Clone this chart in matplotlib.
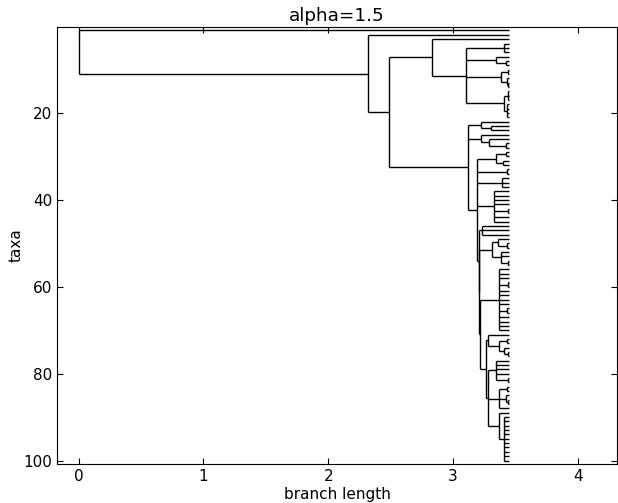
import re
import matplotlib
matplotlib.use("Agg")
from matplotlib import pyplot as plt

# tree written as nested newick-like pieces: '*' is a tip, the number after
# ')' is the x position (distance from root) of that internal node, and an
# upper-case name is replaced by the piece of that name
LEAF_X = 3.45
SUBTREES = {
    "ROOT": "(*,C2)0",
    "C2": "(*,A)2.32",
    "A": "(B,E)2.49",
    "B": "(*,D)2.83",
    "D": "(D1,D2,D3,D4)3.10",
    "D1": "(*,*,*)3.41",
    "D2": "(*,(*,*)3.42)3.34",
    "D3": "((*,*)3.44,(*,(*,*)3.44)3.43)3.38",
    "D4": "((*,*,*)3.44,(*,*,*,*)3.43)3.41",
    "E": "(E1,E2,E3)3.12",
    "E1": "(*,(*,*)3.30)3.22",
    "E2": "(*,(*,(*,*)3.42)3.29)3.22",
    "E3": "(F1,F2,F3,F4,G)3.19",
    "F1": "((*,*)3.42,(*,*)3.40)3.34",
    "F2": "(*,*)3.43",
    "F3": "(*,*,*)3.39",
    "F4": "(*,*,*,*,(*,*)3.44,*,*)3.33",
    "G": "(G1,G2)3.205",
    "G1": "(*,*,*)3.23",
    "G2": "(H,G3)3.21",
    "H": "((*,(*,*)3.43)3.36,(*,*,(*,*)3.44)3.38)3.31",
    "G3": "(R,L)3.215",
    "R": "(*,*,*,(*,*)3.44,*,*,*,*,(*,*)3.43,*,*,*,*)3.37",
    "L": "(L1,M)3.26",
    "L1": "(*,((*,*)3.43,(*,(*,*)3.44)3.41)3.37)3.28",
    "M": "(M1,M2,N)3.28",
    "M1": "(*,*,*,*,(*,*)3.44)3.34",
    "M2": "((*,*)3.43,(*,(*,*)3.44)3.42,*)3.37",
    "N": "(*,(*,*,*,*,*,*,*,*,*,*,*)3.41)3.37",
}

TITLE = "alpha=1.5"
XTICKS = [0, 1, 2, 3, 4]
YTICKS = [20, 40, 60, 80, 100]


def expand(name):
    return re.sub(r"[A-Z]\w*", lambda m: expand(m.group()), SUBTREES[name])


def parse(s):
    pos = 0

    def node():
        nonlocal pos
        if s[pos] == "*":
            pos += 1
            return {"x": LEAF_X, "kids": []}
        pos += 1
        kids = [node()]
        while s[pos] == ",":
            pos += 1
            kids.append(node())
        pos += 1
        m = re.match(r"[0-9.]+", s[pos:])
        pos += m.end()
        return {"x": float(m.group()), "kids": kids}

    return node()


def layout(clade, counter):
    if not clade["kids"]:
        counter[0] += 1
        clade["y"] = counter[0]
        return
    for k in clade["kids"]:
        layout(k, counter)
    clade["y"] = (clade["kids"][0]["y"] + clade["kids"][-1]["y"]) / 2.0


def collect(clade, parent_x, h, v):
    h.append((clade["y"], parent_x, clade["x"]))
    if clade["kids"]:
        v.append((clade["x"], clade["kids"][0]["y"], clade["kids"][-1]["y"]))
        for k in clade["kids"]:
            collect(k, clade["x"], h, v)


tree = parse(expand("ROOT"))
n_tips = [0]
layout(tree, n_tips)
hl, vl = [], []
collect(tree, 0.0, hl, vl)

plt.rcParams["font.family"] = "DejaVu Sans"
plt.rcParams["font.size"] = 11

fig = plt.figure(figsize=(6.18, 5.03), dpi=100)
ax = fig.add_axes([57 / 618, 1 - 464 / 503, 560 / 618, 437 / 503])

ax.hlines([a[0] for a in hl], [a[1] for a in hl], [a[2] for a in hl],
          color="black", linewidth=1)
ax.vlines([a[0] for a in vl], [a[1] for a in vl], [a[2] for a in vl],
          color="black", linewidth=1)

xmax = max(a[2] for a in hl)
ax.set_xlim(-0.05 * xmax, 1.25 * xmax)
ax.set_ylim(n_tips[0] + 0.8, 0.2)
ax.set_xticks(XTICKS)
ax.set_yticks(YTICKS)
ax.tick_params(direction="in", top=True, right=True, length=4)
ax.set_xlabel("branch length", labelpad=2)
ax.set_ylabel("taxa", labelpad=0)
ax.set_title(TITLE, pad=4)

fig.savefig("out.png", dpi=100)
